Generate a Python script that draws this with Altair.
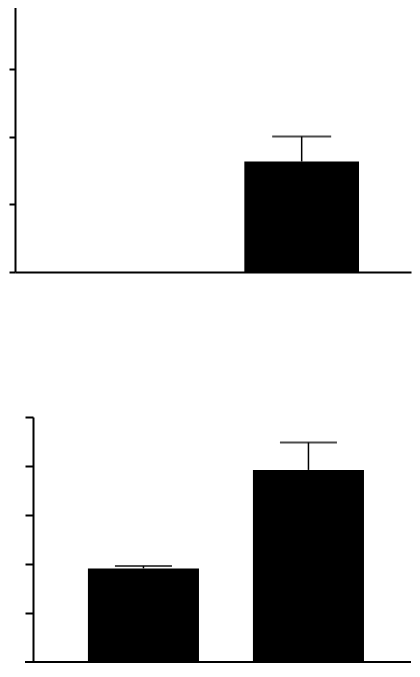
import altair as alt
import pandas as pd

# Top panel data
top_groups = ["A", "B", "C"]
top_means = [0.0, 0.0, 1.63]
top_errs = [0.0, 0.0, 0.37]

# Bottom panel data
bot_groups = ["A", "B"]
bot_means = [1.91, 3.92]
bot_errs = [0.05, 0.56]


def panel(groups, means, errs, width, height, ymax, ticks, xscale, cap,
          ticksize, yoffset, show_xdomain, base_x0=0):
    df = pd.DataFrame({"g": groups, "m": means, "e": errs})
    df["u"] = df["m"] + df["e"]
    x = alt.X("g:N", sort=groups, scale=xscale,
              axis=alt.Axis(labels=False, ticks=False, title=None,
                            domain=show_xdomain,
                            domainColor="black", domainWidth=2))
    y_axis = alt.Axis(values=ticks, labels=False, title=None, grid=False,
                      domainColor="black", domainWidth=2, tickColor="black",
                      tickWidth=2, tickSize=ticksize, offset=yoffset)
    base = alt.Chart(df)
    bars = base.mark_bar(color="black").encode(
        x=x,
        y=alt.Y("m:Q", scale=alt.Scale(domain=[0, ymax], nice=False), axis=y_axis),
    )
    eb = base.transform_filter("datum.e > 0")
    stem = eb.mark_rule(color="black", strokeWidth=1.5).encode(
        x=alt.X("g:N", sort=groups), y="m:Q", y2="u:Q"
    )
    caps = eb.mark_tick(color="black", thickness=2, size=cap).encode(
        x=alt.X("g:N", sort=groups), y="u:Q"
    )
    layers = [bars, stem, caps]
    if not show_xdomain:
        baseline = base.mark_rule(color="black", strokeWidth=2).encode(
            x=alt.value(base_x0), x2=alt.value(width), y=alt.datum(0)
        )
        layers.append(baseline)
    return alt.layer(*layers).properties(width=width, height=height)


top = panel(top_groups, top_means, top_errs, 396, 271, 4, [0, 1, 2, 3, 4],
            alt.Scale(paddingInner=0, paddingOuter=0.2267, align=0), 59, 6, 0, True)
bottom = panel(bot_groups, bot_means, bot_errs, 396, 245, 5, [0, 1, 2, 3, 4, 5],
               alt.Scale(paddingInner=0.327, paddingOuter=0.3635, align=0.608), 57, 8, -18,
               False, base_x0=10)

chart = alt.vconcat(top, bottom, spacing=143).properties(
    padding={"top": -8, "left": 0, "right": 0, "bottom": 0}
).configure_view(stroke=None)

chart.save("out.html", embed_options={"renderer": "svg", "actions": False})
